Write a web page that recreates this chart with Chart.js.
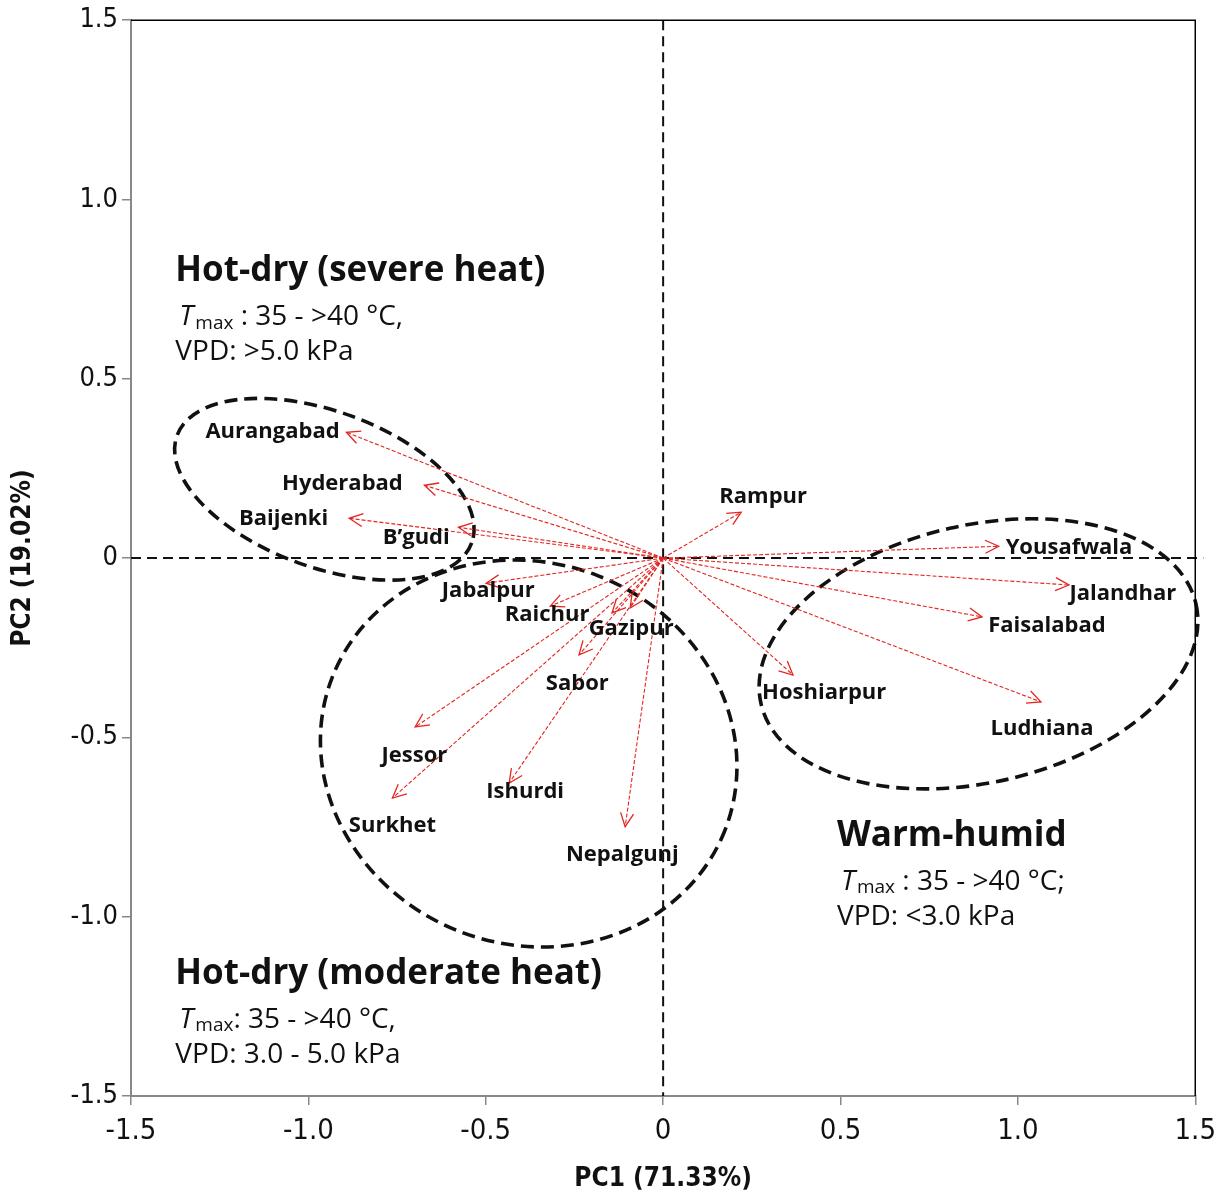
<!DOCTYPE html>
<html>
<head>
<meta charset="utf-8">
<script src="https://cdn.jsdelivr.net/npm/chart.js@4.4.1/dist/chart.umd.min.js"></script>
<style>
  html, body { margin: 0; padding: 0; background: #fff; }
  #wrap { width: 1225px; height: 1190px; }
</style>
</head>
<body>
<div id="wrap"><canvas id="pcaChart" width="1225" height="1190"></canvas></div>
<script>
// ===== Data =====
const sites = ['Aurangabad', 'Hyderabad', 'Baijenki', 'B\u2019gudi', 'Jabalpur', 'Raichur', 'Gazipur', '',
  'Sabor', 'Jessor', 'Surkhet', 'Ishurdi', 'Nepalgunj',
  'Rampur', 'Yousafwala', 'Jalandhar', 'Faisalabad', 'Hoshiarpur', 'Ludhiana'];
const pc1 = [-0.893, -0.673, -0.885, -0.577, -0.499, -0.318, -0.144, -0.093,
  -0.237, -0.699, -0.763, -0.434, -0.107,
  0.220, 0.946, 1.144, 0.899, 0.366, 1.065];
const pc2 = [0.351, 0.203, 0.111, 0.086, -0.070, -0.134, -0.153, -0.139,
  -0.270, -0.471, -0.669, -0.627, -0.749,
  0.128, 0.033, -0.075, -0.164, -0.326, -0.401];

const tickValues = [-1.5, -1.0, -0.5, 0, 0.5, 1.0, 1.5];
const tickLabels = ['-1.5', '-1.0', '-0.5', '0', '0.5', '1.0', '1.5'];

// label anchors (data units) for the site names
const labelX = [-1.101, -0.904, -1.070, -0.696, -0.493, -0.327, -0.090, 0,
  -0.242, -0.701, -0.763, -0.389, -0.115,
  0.282, 1.144, 1.296, 1.082, 0.454, 1.068];
const labelY = [0.351, 0.206, 0.111, 0.058, -0.092, -0.159, -0.198, 0,
  -0.351, -0.552, -0.747, -0.652, -0.827,
  0.170, 0.028, -0.100, -0.189, -0.376, -0.476];

// climate groups: dashed ellipse + text block
const groups = [
  { title: 'Hot-dry (severe heat)', tmax: ' : 35 - >40 \u00B0C,', vpd: 'VPD: >5.0 kPa',
    tx: -1.375, ty: 0.80, ex: -0.955, ey: 0.192, ea: 0.442, eb: 0.220, rot: 20 },
  { title: 'Hot-dry (moderate heat)', tmax: ': 35 - >40 \u00B0C,', vpd: 'VPD: 3.0 - 5.0 kPa',
    tx: -1.375, ty: -1.159, ex: -0.379, ey: -0.545, ea: 0.594, eb: 0.538, rot: 21 },
  { title: 'Warm-humid', tmax: ' : 35 - >40 \u00B0C;', vpd: 'VPD: <3.0 kPa',
    tx: 0.490, ty: -0.774, ex: 0.889, ey: -0.267, ea: 0.629, eb: 0.363, rot: -12.9 }
];

const RED = '#e42520';
const LABEL_FONT = 'bold 22px "Open Sans", sans-serif';

// one dashed line dataset per loading vector, from origin to tip
const datasets = sites.map((name, i) => ({
  label: name,
  data: [{ x: 0, y: 0 }, { x: pc1[i], y: pc2[i] }],
  showLine: true,
  borderColor: RED,
  borderWidth: 1.1,
  borderDash: [4, 2],
  pointRadius: 0,
  fill: false
}));

// ===== Plugin: zero lines + ellipses (under), arrowheads + texts (over) =====
const biplotDecor = {
  id: 'biplotDecor',
  beforeDatasetsDraw(chart) {
    const { ctx, chartArea: a, scales: { x, y } } = chart;
    const x0 = x.getPixelForValue(0);
    const y0 = y.getPixelForValue(0);
    const unit = x.getPixelForValue(1) - x.getPixelForValue(0);

    ctx.save();
    // dashed zero lines
    ctx.strokeStyle = '#111';
    ctx.lineWidth = 2;
    ctx.setLineDash([10, 6]);
    ctx.beginPath();
    ctx.moveTo(x0, a.top); ctx.lineTo(x0, a.bottom);
    ctx.moveTo(a.left, y0); ctx.lineTo(a.right + 8, y0);
    ctx.stroke();

    // group ellipses
    ctx.lineWidth = 3.6;
    ctx.setLineDash([13, 7]);
    groups.forEach(g => {
      ctx.beginPath();
      ctx.ellipse(x.getPixelForValue(g.ex), y.getPixelForValue(g.ey),
        g.ea * unit, g.eb * unit, g.rot * Math.PI / 180, 0, Math.PI * 2);
      ctx.stroke();
    });
    ctx.restore();
  },
  afterDraw(chart) {
    const { ctx, chartArea: a, scales: { x, y } } = chart;
    ctx.save();

    // top and right frame lines
    ctx.strokeStyle = '#000';
    ctx.lineWidth = 1.5;
    ctx.beginPath();
    ctx.moveTo(a.left, a.top); ctx.lineTo(a.right, a.top); ctx.lineTo(a.right, a.bottom);
    ctx.stroke();

    // arrowheads
    ctx.strokeStyle = RED;
    ctx.lineWidth = 1.3;
    chart.data.datasets.forEach((ds, i) => {
      const pts = chart.getDatasetMeta(i).data;
      const p0 = pts[0], p1 = pts[1];
      const ang = Math.atan2(p1.y - p0.y, p1.x - p0.x);
      const len = 15, spread = 0.45;
      ctx.beginPath();
      ctx.moveTo(p1.x - len * Math.cos(ang - spread), p1.y - len * Math.sin(ang - spread));
      ctx.lineTo(p1.x, p1.y);
      ctx.lineTo(p1.x - len * Math.cos(ang + spread), p1.y - len * Math.sin(ang + spread));
      ctx.stroke();
    });

    // site names
    ctx.fillStyle = '#111';
    ctx.font = LABEL_FONT;
    ctx.textAlign = 'center';
    ctx.textBaseline = 'middle';
    sites.forEach((name, i) => {
      if (!name) return;
      ctx.fillText(name, x.getPixelForValue(labelX[i]), y.getPixelForValue(labelY[i]));
    });

    // group text blocks
    ctx.textAlign = 'left';
    groups.forEach(g => {
      const px = x.getPixelForValue(g.tx);
      const py = y.getPixelForValue(g.ty);
      ctx.font = 'bold 35px "Open Sans", sans-serif';
      ctx.fillText(g.title, px, py);

      let cx = px + 4;
      const ly = py + 46;
      ctx.font = 'italic 28px "Open Sans", sans-serif';
      ctx.fillText('T', cx, ly);
      cx += ctx.measureText('T').width + 2;
      ctx.font = '19px "Open Sans", sans-serif';
      ctx.fillText('max', cx, ly + 6);
      cx += ctx.measureText('max').width;
      ctx.font = '28px "Open Sans", sans-serif';
      ctx.fillText(g.tmax, cx, ly);

      ctx.fillText(g.vpd, px, py + 81);
    });
    ctx.restore();
  }
};

const tickFont = { family: '"Liberation Sans Narrow", "DejaVu Sans Condensed", sans-serif', size: 27 };

new Chart(document.getElementById('pcaChart'), {
  type: 'scatter',
  data: { datasets },
  options: {
    responsive: false,
    animation: false,
    devicePixelRatio: 1,
    layout: { padding: { top: 19, right: 28, left: 0, bottom: 0 } },
    plugins: {
      legend: { display: false },
      tooltip: { enabled: false }
    },
    scales: {
      x: {
        type: 'linear',
        min: -1.5,
        max: 1.5,
        afterBuildTicks: s => { s.ticks = tickValues.map(v => ({ value: v })); },
        afterFit: s => { s.height = 94; },
        ticks: {
          color: '#111',
          font: { ...tickFont, size: 29 },
          padding: 9,
          maxRotation: 0,
          callback: v => tickLabels[tickValues.indexOf(v)]
        },
        grid: { drawOnChartArea: false, drawTicks: true, tickLength: 9, color: '#888', lineWidth: 1.5 },
        border: { display: true, color: '#888', width: 2 },
        title: {
          display: true,
          text: 'PC1 (71.33%)',
          color: '#111',
          font: { family: '"Liberation Sans Narrow", "DejaVu Sans Condensed", sans-serif', size: 26, weight: 'bold' },
          padding: { top: 0, bottom: -5 }
        }
      },
      y: {
        type: 'linear',
        min: -1.5,
        max: 1.5,
        afterBuildTicks: s => { s.ticks = tickValues.map(v => ({ value: v })); },
        afterFit: s => { s.width = 131; },
        ticks: {
          color: '#111',
          font: tickFont,
          padding: 4,
          callback: v => tickLabels[tickValues.indexOf(v)]
        },
        grid: { drawOnChartArea: false, drawTicks: true, tickLength: 9, color: '#888', lineWidth: 1.5 },
        border: { display: true, color: '#888', width: 2 },
        title: {
          display: true,
          text: 'PC2 (19.02%)',
          color: '#111',
          font: { family: '"Liberation Sans Narrow", "DejaVu Sans Condensed", sans-serif', size: 26, weight: 'bold' },
          padding: { top: 8, bottom: 0 }
        }
      }
    }
  },
  plugins: [biplotDecor]
});
</script>
</body>
</html>
